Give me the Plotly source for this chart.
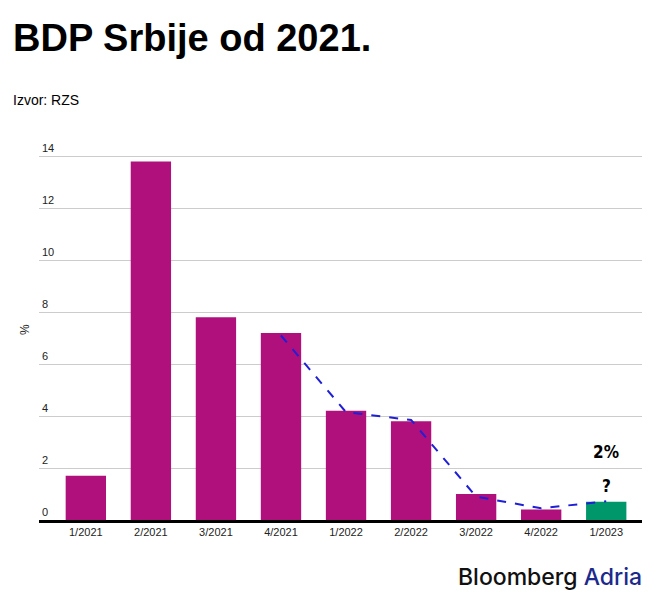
import plotly.graph_objects as go

categories = ["1/2021", "2/2021", "3/2021", "4/2021", "1/2022", "2/2022", "3/2022", "4/2022", "1/2023"]
gdp_values = [1.7, 13.8, 7.8, 7.2, 4.2, 3.8, 1.0, 0.4, 0.7]
trend_values = [None, None, None, 7.1, 4.15, 3.85, 0.9, 0.45, 0.72]
bar_colors = ["#B0107C"] * 8 + ["#00986A"]
y_ticks = [0, 2, 4, 6, 8, 10, 12, 14]

fig = go.Figure()
fig.add_trace(go.Bar(
    x=list(range(len(categories))), y=gdp_values,
    marker=dict(color=bar_colors, line=dict(width=0)),
    width=0.62, hoverinfo="skip", showlegend=False,
))
fig.add_trace(go.Scatter(
    x=list(range(len(categories))), y=trend_values,
    mode="lines", line=dict(color="#1F1FD6", width=2, dash="dash"),
    connectgaps=False, showlegend=False, hoverinfo="skip",
))

# page body has an 8px margin; positions below are in page pixels
OFF = 8
W, H = 668 - OFF, 599 - OFF
YMAX = 14.7
UNIT = 26.0
PL, PR, PB = 39, 642, 520  # plot area edges in page pixels
PT = PB - YMAX * UNIT
L = PL - OFF
R = W - (PR - OFF)
T = PT - OFF
B = H - (PB - OFF)
pw = PR - PL
ph = PB - PT

def px_x(p):
    return (p - PL) / pw

def px_y(p):
    return (PB - p) / ph

fig.update_layout(
    width=W, height=H,
    margin=dict(l=L, r=R, t=T, b=B),
    paper_bgcolor="white", plot_bgcolor="white",
    font=dict(family="Liberation Sans, Arial, sans-serif", color="#222222", size=11),
    xaxis=dict(
        range=[-0.72, 8.55],
        tickmode="array", tickvals=list(range(len(categories))), ticktext=categories,
        showgrid=False, zeroline=False,
        showline=True, linecolor="black", linewidth=2.5,
        ticks="", tickfont=dict(size=11, color="#222222"),
        fixedrange=True,
    ),
    yaxis=dict(
        range=[0, YMAX], tickmode="array", tickvals=y_ticks,
        showgrid=True, gridcolor="#CCCCCC", gridwidth=1,
        zeroline=False, showline=False, ticks="",
        ticklabelposition="inside top",
        tickfont=dict(size=11, color="#222222"),
        fixedrange=True,
    ),
    bargap=0.38,
    annotations=[
        dict(text="<b>BDP Srbije od 2021.</b>", xref="paper", yref="paper",
             x=px_x(11), y=px_y(38), xanchor="left", yanchor="middle", showarrow=False,
             font=dict(family="Liberation Sans, Arial, sans-serif", size=38, color="black")),
        dict(text="Izvor: RZS", xref="paper", yref="paper",
             x=px_x(11), y=px_y(100), xanchor="left", yanchor="middle", showarrow=False,
             font=dict(family="Liberation Sans, Arial, sans-serif", size=14, color="black")),
        dict(text="%", xref="paper", yref="paper", textangle=-90,
             x=px_x(25), y=px_y(330), xanchor="center", yanchor="middle", showarrow=False,
             font=dict(size=12, color="#222222")),
        dict(text="<b>2%</b>", x=8, y=2.6, xref="x", yref="y", showarrow=False,
             xanchor="center", yanchor="middle",
             font=dict(family="DejaVu Sans Condensed, DejaVu Sans, sans-serif", size=17, color="black")),
        dict(text="<b>?</b>", x=8, y=1.3, xref="x", yref="y", showarrow=False,
             xanchor="center", yanchor="middle",
             font=dict(family="DejaVu Sans Condensed, DejaVu Sans, sans-serif", size=17, color="black")),
        dict(text="Bloomberg <span style='color:#1B2A8C'>Adria</span>", xref="paper", yref="paper",
             x=px_x(644), y=px_y(577), xanchor="right", yanchor="middle", showarrow=False,
             font=dict(family="Inter, Noto Sans, sans-serif", size=23, color="#111111", weight=500)),
    ],
)

fig.write_html("out.html")
